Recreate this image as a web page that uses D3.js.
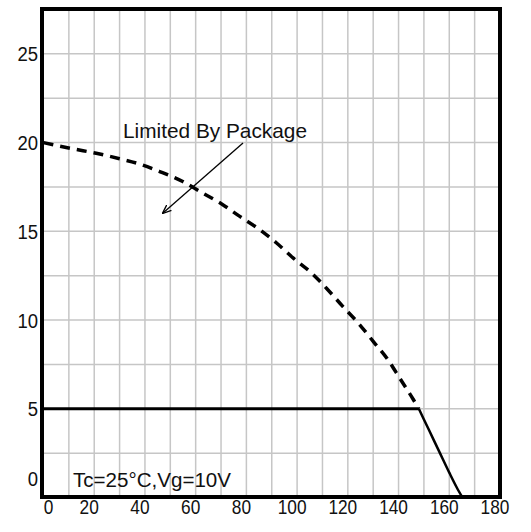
<!DOCTYPE html>
<html>
<head>
<meta charset="utf-8">
<script src="https://cdn.jsdelivr.net/npm/d3@7"></script>
<style>
  body { margin: 0; background: #fff; }
  text { font-family: "Liberation Sans", Arial, sans-serif; fill: #111; }
</style>
</head>
<body>
<div id="chartArea"></div>
<script>
// case temperature (deg C) vs drain current (A)

var xTicks = [0, 20, 40, 60, 80, 100, 120, 140, 160, 180];
var yTicks = [0, 5, 10, 15, 20, 25];

// package limit curve (dashed)
var pkgTemp = [0, 11.5, 20.8, 30, 37.9, 45.8, 54.9, 61.6, 70.7, 77.4, 85.3, 91.9, 98.4, 105.7, 112.1, 118, 124, 130, 135.8, 140.8, 145.7, 148];
var pkgCurrent = [20, 19.65, 19.4, 19.09, 18.79, 18.37, 17.81, 17.25, 16.5, 15.84, 15.09, 14.34, 13.5, 12.65, 11.71, 10.77, 9.85, 8.8, 7.77, 6.65, 5.55, 5.0];

// flat limit line (solid)
var flatTemp = [0, 148];
var flatCurrent = [5, 5];

// thermal derating tail (solid)
var tailTemp = [148, 152, 156, 160, 163, 165.2];
var tailCurrent = [5, 3.8, 2.6, 1.4, 0.55, 0];

var w = 531, h = 532;

var svg = d3.select('#chartArea').append('svg')
    .attr('width', w)
    .attr('height', h);

svg.append('rect').attr('width', w).attr('height', h).attr('fill', '#fff');

var xScale = d3.scaleLinear().domain([0, 180]).range([43.5, 500]);
var yScale = d3.scaleLinear().domain([0, 27.5]).range([497.5, 9.5]);

// grid
svg.append('g').selectAll('line')
    .data(d3.range(10, 180, 10))
    .enter().append('line')
    .attr('x1', function (d) { return xScale(d); })
    .attr('x2', function (d) { return xScale(d); })
    .attr('y1', yScale(27.5))
    .attr('y2', yScale(0))
    .attr('stroke', '#c6c6c6')
    .attr('stroke-width', 1.5);

svg.append('g').selectAll('line')
    .data(d3.range(2.5, 27.5, 2.5))
    .enter().append('line')
    .attr('x1', xScale(0))
    .attr('x2', xScale(180))
    .attr('y1', function (d) { return yScale(d); })
    .attr('y2', function (d) { return yScale(d); })
    .attr('stroke', '#c6c6c6')
    .attr('stroke-width', 1.5);

var line = d3.line()
    .x(function (d) { return xScale(d[0]); })
    .y(function (d) { return yScale(d[1]); })
    .curve(d3.curveMonotoneX);

svg.append('path')
    .datum(d3.zip(pkgTemp, pkgCurrent))
    .attr('d', line)
    .attr('fill', 'none')
    .attr('stroke', '#000')
    .attr('stroke-width', 3.5)
    .attr('stroke-dasharray', '10,7');

svg.append('path')
    .datum(d3.zip(flatTemp, flatCurrent))
    .attr('d', line)
    .attr('fill', 'none')
    .attr('stroke', '#000')
    .attr('stroke-width', 3);

svg.append('path')
    .datum(d3.zip(tailTemp, tailCurrent))
    .attr('d', line)
    .attr('fill', 'none')
    .attr('stroke', '#000')
    .attr('stroke-width', 2.5);

// frame
svg.append('rect')
    .attr('x', 42).attr('y', 9)
    .attr('width', 458).attr('height', 488)
    .attr('fill', 'none')
    .attr('stroke', '#000')
    .attr('stroke-width', 4);

// tick labels
svg.append('g').selectAll('text')
    .data(xTicks)
    .enter().append('text')
    .attr('x', function (d) { return d === 0 ? xScale(d) + 5 : xScale(d) - 5; })
    .attr('y', 514)
    .attr('text-anchor', 'middle')
    .attr('font-size', 20)
    .attr('textLength', function (d) { return String(d).length * 9.6; })
    .attr('lengthAdjust', 'spacingAndGlyphs')
    .text(function (d) { return d; });

svg.append('g').selectAll('text')
    .data(yTicks)
    .enter().append('text')
    .attr('x', 38)
    .attr('y', function (d) { return d === 0 ? 486 : yScale(d) + 7.5; })
    .attr('text-anchor', 'end')
    .attr('font-size', 20)
    .attr('textLength', function (d) { return String(d).length * 10.3; })
    .attr('lengthAdjust', 'spacingAndGlyphs')
    .text(function (d) { return d; });

// annotations
svg.append('defs').append('marker')
    .attr('id', 'head')
    .attr('viewBox', '0 0 10 10')
    .attr('refX', 9).attr('refY', 5)
    .attr('markerWidth', 9).attr('markerHeight', 9)
    .attr('markerUnits', 'userSpaceOnUse')
    .attr('orient', 'auto')
    .append('path')
    .attr('d', 'M0,1 L10,5 L0,9')
    .attr('fill', 'none')
    .attr('stroke', '#000')
    .attr('stroke-width', 1.5);

svg.append('line')
    .attr('x1', 243).attr('y1', 143)
    .attr('x2', 163).attr('y2', 213)
    .attr('stroke', '#000')
    .attr('stroke-width', 1.3)
    .attr('marker-end', 'url(#head)');

svg.append('text')
    .attr('x', 123).attr('y', 138)
    .attr('font-size', 21)
    .attr('textLength', 184)
    .attr('lengthAdjust', 'spacingAndGlyphs')
    .text('Limited By Package');

svg.append('text')
    .attr('x', 73).attr('y', 487)
    .attr('font-size', 20)
    .attr('textLength', 158)
    .attr('lengthAdjust', 'spacingAndGlyphs')
    .text('Tc=25°C,Vg=10V');
</script>
</body>
</html>
